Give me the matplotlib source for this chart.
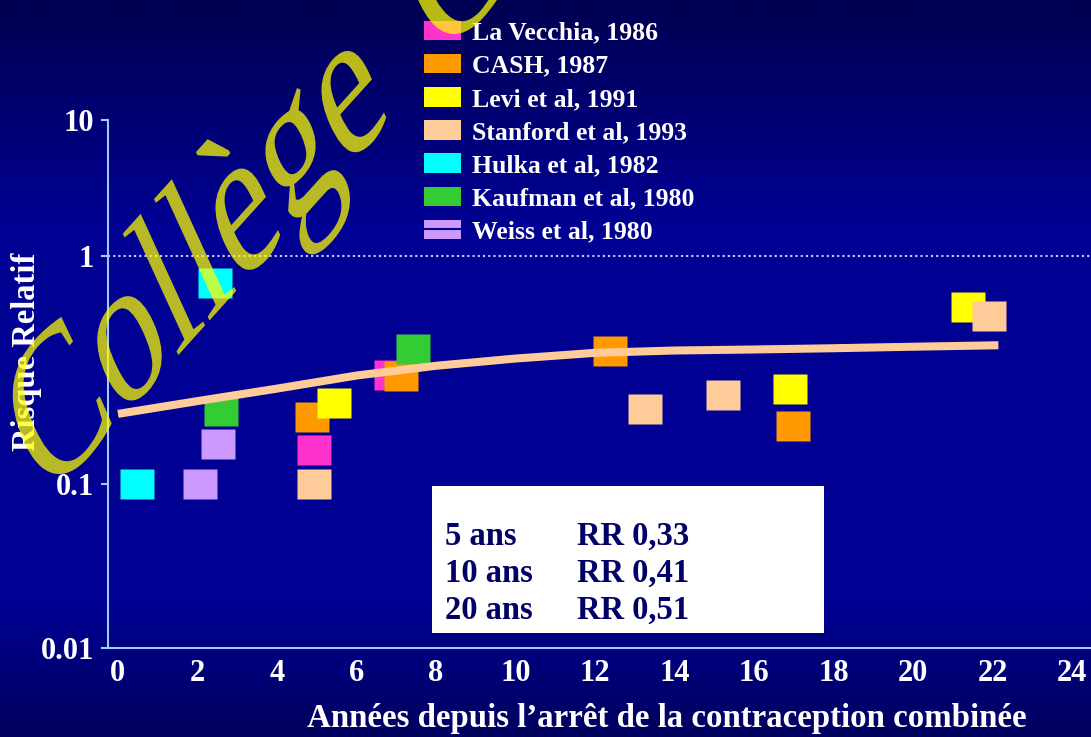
import numpy as np
import matplotlib
matplotlib.use('Agg')
import matplotlib.pyplot as plt
import matplotlib.transforms as mtransforms
from matplotlib.patches import Patch, PathPatch, Rectangle
from matplotlib.lines import Line2D
from matplotlib.path import Path
from matplotlib.textpath import TextPath
from matplotlib.font_manager import FontProperties
from matplotlib.colors import LinearSegmentedColormap
from matplotlib.ticker import NullLocator

plt.rcParams['font.family'] = ['Liberation Serif', 'DejaVu Serif']
plt.rcParams['font.weight'] = 'bold'

W, H = 1091, 737

studies = ['La Vecchia, 1986', 'CASH, 1987', 'Levi et al, 1991', 'Stanford et al, 1993',
           'Hulka et al, 1982', 'Kaufman et al, 1980', 'Weiss et al, 1980']
colors = ['#ff33cc', '#ff9900', '#ffff00', '#ffcc99', '#00ffff', '#33cc33', '#cc99ff']

# years since stopping the pill / relative risk, one pair of lists per study
lavecchia_x = [4.93, 6.87]
lavecchia_rr = [0.141, 0.30]
cash_x = [4.88, 7.12, 12.38, 16.98]
cash_rr = [0.197, 0.298, 0.383, 0.18]
levi_x = [5.43, 16.9, 21.38]
levi_rr = [0.227, 0.261, 0.60]
stanford_x = [4.93, 13.26, 15.22, 21.91]
stanford_rr = [0.10, 0.213, 0.245, 0.545]
hulka_x = [0.48, 2.44]
hulka_rr = [0.10, 0.76]
kaufman_x = [2.59, 7.42]
kaufman_rr = [0.21, 0.39]
weiss_x = [2.06, 2.52]
weiss_rr = [0.10, 0.15]

series_x = [lavecchia_x, cash_x, levi_x, stanford_x, hulka_x, kaufman_x, weiss_x]
series_rr = [lavecchia_rr, cash_rr, levi_rr, stanford_rr, hulka_rr, kaufman_rr, weiss_rr]

# pooled trend
trend_x = [0, 2, 4, 6, 8, 10, 12, 14, 16, 18, 20, 22.15]
trend_rr = [0.203, 0.231, 0.262, 0.299, 0.33, 0.355, 0.376, 0.385, 0.389, 0.394, 0.40, 0.406]

x_ticks = list(range(0, 25, 2))
y_ticks = [0.01, 0.1, 1, 10]
y_ticklabels = ['0.01', '0.1', '1', '10']

box_rows = [('5 ans', 'RR 0,33'), ('10 ans', 'RR 0,41'), ('20 ans', 'RR 0,51')]

bg = '#000092'
axis_col = '#99ccff'


def px(x, y):
    # pixel position (from top-left) -> figure fraction
    return x / W, 1 - y / H


# uneven log axis: each decade gets its own height
dec_log = [-2, -1, 0, 1]
dec_pos = [0, 164, 392, 528]


def fwd(v):
    v = np.clip(np.asarray(v, dtype=float), 1e-6, None)
    return np.interp(np.log10(v), dec_log, dec_pos)


def inv(p):
    return 10 ** np.interp(p, dec_pos, dec_log)


fig = plt.figure(figsize=(W / 100, H / 100), dpi=100)

# background gradient
ax_bg = fig.add_axes([0, 0, 1, 1], zorder=-1)
cmap = LinearSegmentedColormap.from_list(
    'bg', [(0, '#000052'), (0.3, bg), (0.82, bg), (1, '#00005e')])
ax_bg.imshow(np.linspace(0, 1, 256).reshape(-1, 1), cmap=cmap, aspect='auto',
             extent=[0, 1, 0, 1])
ax_bg.axis('off')

l, b = px(108, 648)
ax = fig.add_axes([l, b, 1 - l, (648 - 120) / H])
ax.set_facecolor('none')
ax.set_yscale('function', functions=(fwd, inv))
ax.set_ylim(0.01, 10)
ax.set_xlim(-0.25, 24.48)

ax.set_xticks(x_ticks)
ax.set_yticks(y_ticks)
ax.set_yticklabels(y_ticklabels)
ax.yaxis.set_minor_locator(NullLocator())
ax.tick_params(axis='x', length=0, pad=8, labelsize=22, labelcolor='white')
ax.tick_params(axis='y', length=5, width=1.5, color=axis_col, pad=5,
               labelsize=22, labelcolor='white')
for s in ['top', 'right']:
    ax.spines[s].set_visible(False)
for s in ['left', 'bottom']:
    ax.spines[s].set_color(axis_col)
    ax.spines[s].set_linewidth(1.5)

ax.axhline(1, color='#c8d4ff', lw=1.5, ls=(0, (1, 1.5)), zorder=1)

rect = Path([(-1, -0.88), (1, -0.88), (1, 0.88), (-1, 0.88), (-1, -0.88)],
            [Path.MOVETO, Path.LINETO, Path.LINETO, Path.LINETO, Path.CLOSEPOLY])
for xs, ys, c in zip(series_x, series_rr, colors):
    ax.plot(xs, ys, ls='none', marker=rect, ms=24.5, mfc=c, mec='none',
            zorder=3, clip_on=False)

ax.plot(trend_x, trend_rr, color='#ffcc99', lw=5.8, solid_capstyle='butt', zorder=4)

# legend
handles = [Patch(facecolor=c, edgecolor='none') for c in colors]
handles[-1] = (handles[-1], Line2D([], [], color=bg, lw=1.5))
fig.legend(handles, studies, loc='upper left', bbox_to_anchor=px(424, 21),
           frameon=False, borderpad=0, borderaxespad=0, handlelength=1.44,
           handleheight=0.78, handletextpad=0.43, labelspacing=0.37,
           prop=FontProperties(family='Liberation Serif', weight='bold', size=18.5),
           labelcolor='white')

# summary box
bx, by = px(432, 633)
fig.add_artist(Rectangle((bx, by), (824 - 432) / W, (633 - 486) / H,
                         transform=fig.transFigure, facecolor='white',
                         edgecolor='none', zorder=3))
for (yrs, rr), base in zip(box_rows, [545, 582, 619]):
    fig.text(*px(445, base), yrs, color='#000066', size=23.5, va='baseline', zorder=4)
    fig.text(*px(577, base), rr, color='#000066', size=23.5, va='baseline', zorder=4)

fig.text(*px(27, 352), 'Risque Relatif', rotation=90, ha='center', va='center',
         color='white', size=23.5)
fig.text(*px(667, 719), 'Années depuis l’arrêt de la contraception combinée',
         ha='center', va='center', color='white', size=23.7)

# watermark: slanted serif text laid over everything
# (baseline and upright directions given in pixels per em, y upwards)
wm_size = 205
base_dir = (112.3, 124.6)
up_dir = (-80.0, 175.0)
wm_font = FontProperties(family='Liberation Serif', weight='normal')
for word, (tx, ty) in [('Collège', (45, 234)), ('CNGOF', (440, 674))]:
    path = TextPath((0, 0), word, size=wm_size, prop=wm_font)
    tr = mtransforms.Affine2D.from_values(
        base_dir[0] / wm_size, base_dir[1] / wm_size,
        up_dir[0] / wm_size, up_dir[1] / wm_size, tx, ty)
    fig.add_artist(PathPatch(path, transform=tr, facecolor='#ffff00',
                             edgecolor='none', alpha=0.73, zorder=20))

fig.savefig('out.png', dpi=100)
